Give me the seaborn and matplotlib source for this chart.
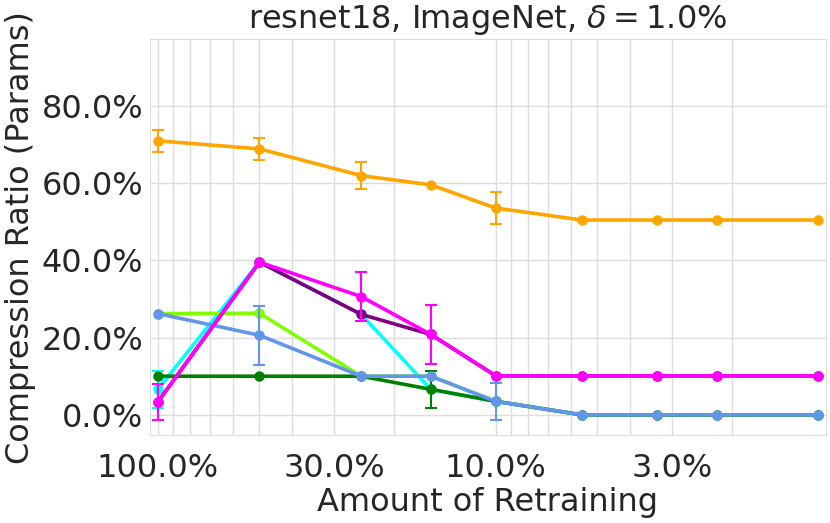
import matplotlib
matplotlib.use("Agg")
import matplotlib.pyplot as plt
import matplotlib.ticker as mticker
import numpy as np
import pandas as pd
import seaborn as sns

# ---- data ----
retrain = [100.0, 50.0, 25.0, 15.56, 10.0, 5.56, 3.33, 2.22, 1.11]
major_ticks = [100.0, 30.0, 10.0, 3.0]
y_ticks = [0, 20, 40, 60, 80]

series_order = ["cyan", "lime", "green", "blue", "purple", "magenta", "orange"]
colors = {
    "cyan": "#00FFFF",
    "lime": "#7FFF00",
    "green": "#008000",
    "blue": "#6495ED",
    "purple": "#800080",
    "magenta": "#FF00FF",
    "orange": "#FFA500",
}
cyan_vals = [6.6, 39.5, 26.0, 6.6, 3.5, 0.0, 0.0, 0.0, 0.0]
cyan_err = [4.7, 0, 0, 0, 0, 0, 0, 0, 0]
lime_vals = [26.2, 26.3, 10.0, 10.0, 3.5, 0.0, 0.0, 0.0, 0.0]
lime_err = [0, 0, 0, 0, 0, 0, 0, 0, 0]
green_vals = [10.0, 10.0, 10.0, 6.6, 3.5, 0.0, 0.0, 0.0, 0.0]
green_err = [0, 0, 0, 4.75, 0, 0, 0, 0, 0]
blue_vals = [26.2, 20.6, 10.0, 10.0, 3.5, 0.0, 0.0, 0.0, 0.0]
blue_err = [0, 7.6, 0, 0, 4.85, 0, 0, 0, 0]
purple_vals = [3.3, 39.5, 26.0, 20.8, 10.1, 10.1, 10.1, 10.1, 10.1]
purple_err = [0, 0, 0, 0, 0, 0, 0, 0, 0]
magenta_vals = [3.3, 39.5, 30.6, 20.8, 10.1, 10.1, 10.1, 10.1, 10.1]
magenta_err = [4.7, 0, 6.3, 7.7, 0, 0, 0, 0, 0]
orange_vals = [70.9, 68.8, 61.9, 59.5, 53.5, 50.4, 50.4, 50.4, 50.4]
orange_err = [2.9, 2.9, 3.4, 0, 4.2, 0, 0, 0, 0]

values = {
    "cyan": (cyan_vals, cyan_err),
    "lime": (lime_vals, lime_err),
    "green": (green_vals, green_err),
    "blue": (blue_vals, blue_err),
    "purple": (purple_vals, purple_err),
    "magenta": (magenta_vals, magenta_err),
    "orange": (orange_vals, orange_err),
}

rows = []
for name in series_order:
    v, e = values[name]
    for xi, vi, ei in zip(retrain, v, e):
        rows.append({"x": xi, "y": vi, "err": ei, "series": name})
df = pd.DataFrame(rows)

# ---- style ----
sns.set_style("whitegrid", {"grid.color": "#dcdcdc", "axes.edgecolor": "#dcdcdc"})
plt.rcParams["font.family"] = ["DejaVu Sans"]
plt.rcParams["text.color"] = "#262626"
plt.rcParams["axes.labelcolor"] = "#262626"
plt.rcParams["xtick.color"] = "#262626"
plt.rcParams["ytick.color"] = "#262626"

fig = plt.figure(figsize=(8.3, 5.23), dpi=100)
ax = fig.add_axes([0.1807, 0.1683, 0.9952 - 0.1807, 0.9245 - 0.1683])

for i, name in enumerate(series_order):
    sub = df[df["series"] == name]
    c = colors[name]
    z = 2 + i
    sns.lineplot(data=sub, x="x", y="y", ax=ax, color=c, marker="o",
                 markersize=7.5, linewidth=2.6, markeredgewidth=0,
                 legend=False, zorder=z, errorbar=None)
    se = sub[sub["err"] > 0]
    if len(se):
        ax.errorbar(se["x"], se["y"], yerr=se["err"], fmt="none", ecolor=c,
                    elinewidth=1.5, capsize=4.5, capthick=1.5, zorder=z)

ax.set_xscale("log")
ax.set_xlim(105.4, 1.054)
ax.set_ylim(-5.2, 97.1)

ax.xaxis.set_major_locator(mticker.FixedLocator(major_ticks))
ax.xaxis.set_major_formatter(mticker.FuncFormatter(lambda v, p: f"{v:.1f}%"))
ax.xaxis.set_minor_locator(mticker.LogLocator(base=10, subs=np.arange(2, 10)))
ax.xaxis.set_minor_formatter(mticker.NullFormatter())
ax.yaxis.set_major_locator(mticker.FixedLocator(y_ticks))
ax.yaxis.set_major_formatter(mticker.FuncFormatter(lambda v, p: f"{v:.1f}%"))

ax.grid(True, which="major", axis="both", color="#dcdcdc", linewidth=1)
ax.grid(True, which="minor", axis="x", color="#dcdcdc", linewidth=1)
ax.tick_params(axis="x", which="both", length=0, pad=13, labelsize=23)
ax.tick_params(axis="y", which="both", length=0, pad=5, labelsize=23)

ax.set_xlabel("Amount of Retraining", fontsize=23, labelpad=2)
ax.set_ylabel("Compression Ratio (Params)", fontsize=23, labelpad=4)
ax.set_title(r"resnet18, ImageNet, $\delta = 1.0\%$", fontsize=23, pad=8)

fig.savefig("out.png", dpi=100)
